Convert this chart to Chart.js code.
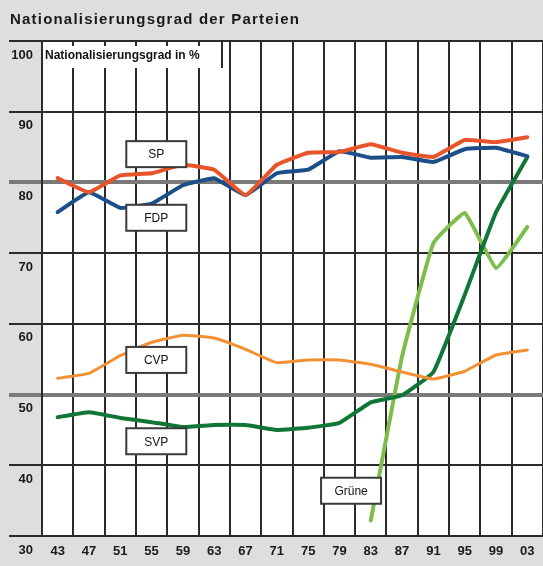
<!DOCTYPE html>
<html>
<head>
<meta charset="utf-8">
<script src="https://cdn.jsdelivr.net/npm/chart.js@4"></script>
<style>
	html, body { margin: 0; padding: 0; background: #dedede; }
	#wrap { width: 543px; height: 566px; }
</style>
</head>
<body>
<div id="wrap"><canvas id="chart"></canvas></div>
<script>
var years = ['43','47','51','55','59','63','67','71','75','79','83','87','91','95','99','03'];
var yTicks = [30, 40, 50, 60, 70, 80, 90, 100];

var sp     = [80.6, 78.6, 81.0, 81.3, 82.5, 81.8, 78.2, 82.5, 84.2, 84.3, 85.4, 84.2, 83.6, 86.0, 85.7, 86.4];
var fdp    = [75.8, 78.6, 76.4, 77.0, 79.6, 80.6, 78.2, 81.3, 81.8, 84.4, 83.5, 83.6, 82.9, 84.7, 84.9, 83.7];
var cvp    = [52.3, 53.0, 55.5, 57.4, 58.4, 58.0, 56.4, 54.5, 54.9, 54.9, 54.3, 53.2, 52.2, 53.3, 55.6, 56.3];
var svp    = [46.8, 47.5, 46.7, 46.1, 45.4, 45.7, 45.7, 45.0, 45.3, 46.0, 48.9, 49.9, 53.2, 64.1, 75.8, 83.6];
var gruene = [null, null, null, null, null, null, null, null, null, null, 32.2, 55.4, 71.4, 75.7, 67.9, 73.7];

var FONT = "'Liberation Sans', Arial, sans-serif";

// name tags next to the lines: [text, category index, value]
var tags = [
	['SP', 3.15, 84.0],
	['FDP', 3.15, 75.0],
	['CVP', 3.15, 54.9],
	['SVP', 3.15, 43.4],
	['Grüne', 9.37, 36.4]
];

function line(label, data, color, width){
	return {
		label: label,
		data: data,
		borderColor: color,
		borderWidth: width,
		pointRadius: 0,
		tension: 0.1,
		borderJoinStyle: 'round',
		borderCapStyle: 'round',
		spanGaps: false
	};
}

var paper = {
	id: 'paper',
	beforeDraw: function(chart){
		var ctx = chart.ctx, a = chart.chartArea;
		ctx.save();
		ctx.fillStyle = '#dedede';
		ctx.fillRect(0, 0, chart.width, chart.height);
		ctx.fillStyle = '#ffffff';
		ctx.fillRect(a.left, a.top, a.right - a.left, a.bottom - a.top);
		ctx.fillStyle = '#1a1a1a';
		ctx.font = 'bold 15px ' + FONT;
		ctx.letterSpacing = '1.2px';
		ctx.textBaseline = 'middle';
		ctx.fillText('Nationalisierungsgrad der Parteien', 10, 20);
		ctx.restore();
	},
	beforeDatasetsDraw: function(chart){
		var ctx = chart.ctx, a = chart.chartArea;
		ctx.save();
		ctx.fillStyle = '#ffffff';
		ctx.fillRect(a.left + 2, a.top + 5, 178, 22);
		ctx.strokeStyle = '#2b2b2b';
		ctx.lineWidth = 2;
		ctx.beginPath();
		ctx.moveTo(a.left + 180, a.top);
		ctx.lineTo(a.left + 180, a.top + 27);
		ctx.stroke();
		ctx.fillStyle = '#111';
		ctx.font = 'bold 12px ' + FONT;
		ctx.textBaseline = 'middle';
		ctx.fillText('Nationalisierungsgrad in %', a.left + 3, a.top + 15);
		ctx.restore();
	},
	afterDatasetsDraw: function(chart){
		var ctx = chart.ctx, xs = chart.scales.x, ys = chart.scales.y;
		ctx.save();
		ctx.font = '12px ' + FONT;
		ctx.textAlign = 'center';
		ctx.textBaseline = 'middle';
		tags.forEach(function(t){
			var cx = xs.getPixelForValue(t[1]);
			var cy = ys.getPixelForValue(t[2]);
			ctx.fillStyle = '#ffffff';
			ctx.fillRect(cx - 30, cy - 13, 60, 26);
			ctx.strokeStyle = '#3a3a3a';
			ctx.lineWidth = 2;
			ctx.strokeRect(cx - 30, cy - 13, 60, 26);
			ctx.fillStyle = '#111';
			ctx.fillText(t[0], cx, cy + 1);
		});
		ctx.restore();
	}
};

var chart = new Chart(document.getElementById('chart').getContext('2d'), {
	type: 'line',
	data: {
		labels: years,
		datasets: [
			line('SP', sp, '#e8552b', 4),
			line('FDP', fdp, '#1c4f8a', 4),
			line('CVP', cvp, '#f39034', 3),
			line('SVP', svp, '#107636', 4),
			line('Grüne', gruene, '#7dbd4b', 4)
		]
	},
	options: {
		responsive: true,
		maintainAspectRatio: false,
		animation: false,
		layout: { padding: { top: 41, right: 0, left: 0, bottom: 0 } },
		plugins: {
			legend: { display: false },
			title: { display: false },
			tooltip: { enabled: false }
		},
		scales: {
			x: {
				offset: true,
				grid: {
					offset: true,
					color: '#2b2b2b',
					lineWidth: 2,
					drawTicks: false
				},
				border: { display: false },
				ticks: {
					color: '#1a1a1a',
					padding: 8,
					maxRotation: 0,
					autoSkip: false,
					font: { family: FONT, size: 13, weight: 'bold' }
				},
				afterFit: function(scale){ scale.height = 30; }
			},
			y: {
				min: 30,
				max: 100,
				afterBuildTicks: function(scale){
					scale.ticks = yTicks.map(function(v){ return { value: v }; });
				},
				grid: {
					tickLength: 33,
					color: function(c){
						var v = c.tick && c.tick.value;
						return (v === 80 || v === 50) ? '#7a7a7a' : '#2b2b2b';
					},
					lineWidth: function(c){
						var v = c.tick && c.tick.value;
						return (v === 80 || v === 50) ? 4 : 2;
					}
				},
				border: { display: true, color: '#2b2b2b', width: 2 },
				ticks: {
					color: '#1a1a1a',
					padding: -24,
					labelOffset: 14,
					font: { family: FONT, size: 13, weight: 'bold' }
				},
				afterFit: function(scale){ scale.width = 42; }
			}
		}
	},
	plugins: [paper]
});
</script>
</body>
</html>
